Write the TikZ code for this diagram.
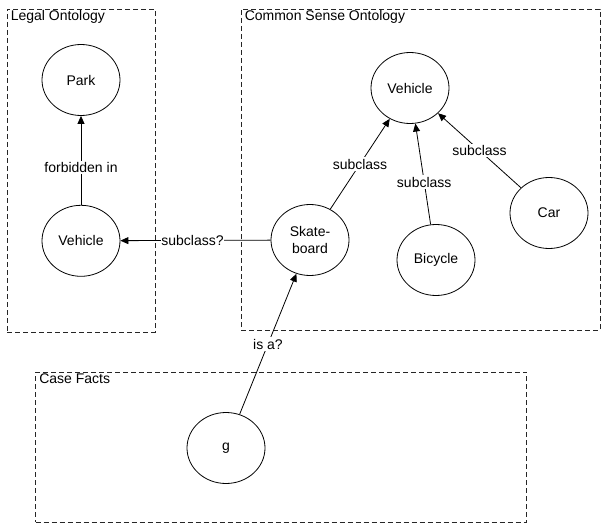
\documentclass[tikz,border=0pt]{standalone}
\usepackage{fontspec}
\setmainfont{Liberation Sans}
\usepackage{tikz}
\usetikzlibrary{arrows.meta, positioning, shapes}

\begin{document}
\begin{tikzpicture}[
    x=1pt, y=-1pt,
    font=\fontsize{14}{16.5}\selectfont,
    concept/.style={
        ellipse,
        draw,
        thick,
        align=center,
        inner sep=0pt,
        minimum width=78pt,
        minimum height=71pt
    },
    frame/.style={
        rectangle,
        draw=black!85,
        line width=0.9pt,
        dash pattern=on 5pt off 3pt,
        inner sep=0pt
    },
    title/.style={anchor=north west, inner sep=2pt, xshift=2pt},
    lbl/.style={fill=white, inner sep=1.5pt},
    arrow/.style={-{Triangle[length=8pt, width=7pt]}, thick}
]
\useasboundingbox (0,0) rectangle (603,527);

% frames
\node[frame, minimum width=148pt, minimum height=323pt] (legal) at (81,170.5) {};
\node[frame, minimum width=359pt, minimum height=321pt] (common) at (420.5,169.5) {};
\node[frame, minimum width=491pt, minimum height=150pt] (facts) at (281,447) {};

\node[title] at (legal.north west) {Legal Ontology};
\node[title] at (common.north west) {Common Sense Ontology};
\node[title] at (facts.north west) {Case Facts};

% legal ontology
\node[concept] (park) at (81,80) {Park};
\node[concept, below=89pt of park] (lvehicle) {Vehicle};

% common sense ontology
\node[concept] (cvehicle) at (410,88) {Vehicle};
\node[concept] (skate) at (310,240) {Skate-\\board};
\node[concept] (bicycle) at (436,260) {Bicycle};
\node[concept] (car) at (549,213) {Car};

% case facts
\node[concept] (g) at (226,448) {g};

\draw[arrow] (lvehicle) -- node[lbl, pos=0.42] {forbidden in} (park);
\draw[arrow] (skate) -- node[lbl, pos=0.52, inner sep=0.8pt] {subclass?} (lvehicle);
\draw[arrow] (skate) -- node[lbl] {subclass} (cvehicle);
\draw[arrow] (bicycle) -- node[lbl, pos=0.42] {subclass} (cvehicle);
\draw[arrow] (car) -- node[lbl] {subclass} (cvehicle);
\draw[arrow] (g) -- node[lbl] {is a?} (skate);

\end{tikzpicture}
\end{document}
